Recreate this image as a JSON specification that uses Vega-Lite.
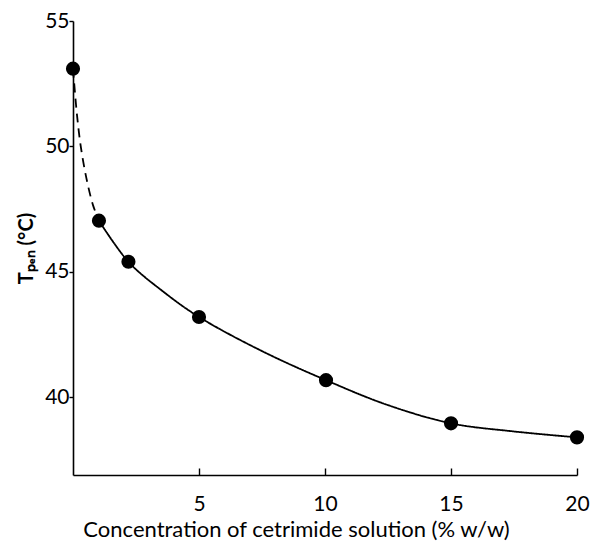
{
  "$schema": "https://vega.github.io/schema/vega-lite/v6.json",
  "width": 504,
  "height": 454,
  "autosize": {"type": "none"},
  "padding": {"left": 73, "top": 21, "right": 16, "bottom": 69},
  "background": "white",
  "config": {
    "view": {"stroke": null},
    "font": "Lato",
    "axis": {"grid": false, "domainColor": "black", "domainWidth": 1.6, "tickColor": "black", "tickWidth": 1.4, "labelColor": "black", "titleColor": "black", "labelFont": "Lato", "titleFont": "Lato"}
  },
  "datasets": {
    "curve": [
      {"c": 0.0, "t": 53.1, "seg": "dashed"},
      {"c": 0.04, "t": 52.6, "seg": "dashed"},
      {"c": 0.16, "t": 51.24, "seg": "dashed"},
      {"c": 0.32, "t": 49.92, "seg": "dashed"},
      {"c": 0.56, "t": 48.6, "seg": "dashed"},
      {"c": 0.8, "t": 47.64, "seg": "dashed"},
      {"c": 1.03, "t": 47.04, "seg": "dashed"},
      {"c": 1.03, "t": 47.04, "seg": "solid"},
      {"c": 2.2, "t": 45.4, "seg": "solid"},
      {"c": 3.57, "t": 44.22, "seg": "solid"},
      {"c": 5.0, "t": 43.2, "seg": "solid"},
      {"c": 7.54, "t": 41.82, "seg": "solid"},
      {"c": 10.04, "t": 40.68, "seg": "solid"},
      {"c": 12.46, "t": 39.7, "seg": "solid"},
      {"c": 15.0, "t": 38.96, "seg": "solid"},
      {"c": 17.46, "t": 38.64, "seg": "solid"},
      {"c": 20.0, "t": 38.4, "seg": "solid"}
    ],
    "points": [
      {"c": 0.0, "t": 53.1},
      {"c": 1.03, "t": 47.04},
      {"c": 2.2, "t": 45.4},
      {"c": 5.0, "t": 43.2},
      {"c": 10.04, "t": 40.68},
      {"c": 15.0, "t": 38.96},
      {"c": 20.0, "t": 38.4}
    ]
  },
  "layer": [
    {
      "data": {"name": "curve"},
      "mark": {"type": "line", "interpolate": "catmull-rom", "color": "black", "strokeWidth": 1.8},
      "encoding": {
        "x": {"field": "c", "type": "quantitative", "scale": {"domain": [0, 20], "nice": false, "zero": false},
          "axis": {"values": [5, 10, 15, 20], "title": "Concentration of cetrimide solution (% w/w)", "titleFontSize": 22, "titleFontWeight": "normal", "titlePadding": 5, "titleX": 223, "labelFontSize": 21, "tickSize": -7, "labelPadding": 25, "labelFlush": false}},
        "y": {"field": "t", "type": "quantitative", "scale": {"domain": [36.9, 55], "nice": false, "zero": false},
          "axis": {"values": [40, 45, 50, 55], "title": "Tₚₑₙ (°C)", "titleFontSize": 20, "titleFontWeight": "bold", "titlePadding": 8, "labelFontSize": 21, "tickSize": 4, "labelPadding": 0, "labelFlush": false}},
        "detail": {"field": "seg"},
        "strokeDash": {"field": "seg", "type": "nominal", "scale": {"domain": ["dashed", "solid"], "range": [[9, 6], [1, 0]]}, "legend": null}
      }
    },
    {
      "data": {"name": "points"},
      "mark": {"type": "point", "filled": true, "color": "black", "opacity": 1, "size": 200},
      "encoding": {
        "x": {"field": "c", "type": "quantitative"},
        "y": {"field": "t", "type": "quantitative"}
      }
    }
  ]
}
